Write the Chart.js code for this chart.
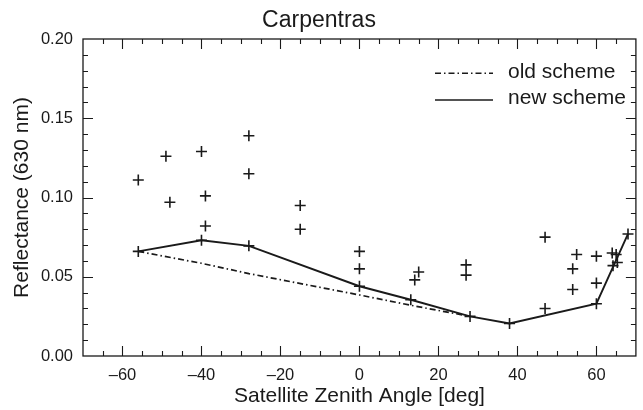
<!DOCTYPE html>
<html><head><meta charset="utf-8">
<script src="https://cdn.jsdelivr.net/npm/chart.js@4/dist/chart.umd.min.js"></script>
<style>html,body{margin:0;padding:0;background:#fff;overflow:hidden}</style>
</head><body>
<canvas id="c" width="643" height="410"></canvas>
<script>
// Observations (crosses)
const obsAngle = [-56, -49, -48, -40, -39, -39, -28, -28, -15, -15, 0, 0, 14, 15, 27, 27, 47, 47, 54, 54, 55, 60, 60, 64, 65, 65.3, 64.2];
const obsRefl  = [0.111, 0.126, 0.097, 0.129, 0.101, 0.082, 0.139, 0.115, 0.095, 0.080, 0.066, 0.055, 0.048, 0.053, 0.0575, 0.051, 0.075, 0.030, 0.055, 0.042, 0.064, 0.063, 0.046, 0.065, 0.064, 0.059, 0.057];
// New scheme (solid line with crosses at vertices)
const newAngle = [-56, -40, -28, 0, 13, 28, 38, 60, 68];
const newRefl  = [0.066, 0.073, 0.0695, 0.044, 0.0355, 0.025, 0.0205, 0.033, 0.077];
// Old scheme (dash-dot line)
const oldAngle = [-56, -40, -28, 0, 13, 28];
const oldRefl  = [0.066, 0.0585, 0.052, 0.0385, 0.032, 0.025];
// Axis ticks
const xTicks = [-60, -40, -20, 0, 20, 40, 60];
const yTicks = [0.00, 0.05, 0.10, 0.15, 0.20];
const legendLabels = ['old scheme', 'new scheme'];

const FONT = "'Liberation Sans', Arial, Helvetica, sans-serif";
const INK = '#1a1a1a';

const toXY = (xs, ys) => xs.map((x, i) => ({x, y: ys[i]}));

const frameTicks = {
  id: 'frameTicks',
  afterDatasetsDraw(chart) {
    const {ctx, chartArea: a, scales} = chart;
    const xs = scales.x, ys = scales.y;
    ctx.save();
    ctx.strokeStyle = INK;
    ctx.lineWidth = 1.3;
    ctx.strokeRect(a.left, a.top, a.right - a.left, a.bottom - a.top);
    ctx.lineWidth = 1.1;
    ctx.beginPath();
    for (let v = xs.min + 5; v < xs.max; v += 5) {
      const p = Math.round(xs.getPixelForValue(v)) + 0.5;
      const len = (v % 20 === 0) ? 10 : 5;
      ctx.moveTo(p, a.bottom); ctx.lineTo(p, a.bottom - len);
      ctx.moveTo(p, a.top); ctx.lineTo(p, a.top + len);
    }
    for (let i = 1; i < 20; i++) {
      const v = i * 0.01;
      const p = Math.round(ys.getPixelForValue(v)) + 0.5;
      const len = (i % 5 === 0) ? 10 : 5;
      ctx.moveTo(a.left, p); ctx.lineTo(a.left + len, p);
      ctx.moveTo(a.right, p); ctx.lineTo(a.right - len, p);
    }
    ctx.stroke();

    // legend
    const lx0 = 435, lx1 = 493, tx = 508;
    const rows = [73.3, 100];
    ctx.font = '21px ' + FONT;
    ctx.fillStyle = INK;
    ctx.textBaseline = 'middle';
    ctx.textAlign = 'left';
    const styles = [[6, 3, 1.5, 3], []];
    rows.forEach((yy, i) => {
      ctx.beginPath();
      ctx.setLineDash(styles[i]);
      ctx.lineWidth = 1.6;
      ctx.moveTo(lx0, yy); ctx.lineTo(lx1, yy);
      ctx.stroke();
      ctx.setLineDash([]);
      ctx.fillText(legendLabels[i], tx, yy - 1.5);
    });
    ctx.restore();
  }
};

new Chart(document.getElementById('c'), {
  type: 'scatter',
  data: {
    datasets: [
      {
        label: 'observations',
        data: toXY(obsAngle, obsRefl),
        showLine: false,
        pointStyle: 'cross',
        pointRadius: 5.5,
        pointBorderWidth: 1.6,
        borderColor: INK,
        backgroundColor: INK
      },
      {
        label: 'old scheme',
        data: toXY(oldAngle, oldRefl),
        showLine: true,
        borderColor: INK,
        borderWidth: 1.7,
        borderDash: [6, 3, 1.5, 3],
        pointRadius: 0,
        fill: false
      },
      {
        label: 'new scheme',
        data: toXY(newAngle, newRefl),
        showLine: true,
        borderColor: INK,
        borderWidth: 1.9,
        pointStyle: 'cross',
        pointRadius: 5.5,
        pointBorderWidth: 1.6,
        pointBorderColor: INK,
        fill: false
      }
    ]
  },
  options: {
    responsive: false,
    animation: false,
    devicePixelRatio: 1,
    layout: {padding: {left: 0, right: 5, top: 0, bottom: 0}},
    plugins: {
      legend: {display: false},
      tooltip: {enabled: false},
      title: {
        display: true,
        text: 'Carpentras',
        color: INK,
        font: {family: FONT, size: 23, weight: 'normal'},
        padding: {top: 6.7, bottom: 4.7}
      }
    },
    scales: {
      x: {
        type: 'linear',
        min: -70, max: 70,
        afterBuildTicks: s => { s.ticks = xTicks.map(v => ({value: v})); },
        afterFit: s => { s.height = 54; },
        grid: {display: false, drawTicks: false},
        border: {display: false},
        ticks: {
          color: INK,
          font: {family: FONT, size: 16.5},
          padding: 10,
          maxRotation: 0,
          callback: v => (v < 0 ? '\u2013' + Math.abs(v) : String(v))
        },
        title: {
          display: true,
          text: 'Satellite Zenith Angle [deg]',
          color: INK,
          font: {family: FONT, size: 21},
          padding: {top: 0, bottom: 1}
        }
      },
      y: {
        type: 'linear',
        min: 0, max: 0.2,
        afterBuildTicks: s => { s.ticks = yTicks.map(v => ({value: v})); },
        afterFit: s => { s.width = 83; },
        grid: {display: false, drawTicks: false},
        border: {display: false},
        ticks: {
          color: INK,
          font: {family: FONT, size: 16.5},
          padding: 10,
          callback: v => Number(v).toFixed(2)
        },
        title: {
          display: true,
          text: 'Reflectance (630 nm)',
          color: INK,
          font: {family: FONT, size: 21},
          padding: {top: 10, bottom: 0}
        }
      }
    }
  },
  plugins: [frameTicks]
});
</script>
</body></html>
